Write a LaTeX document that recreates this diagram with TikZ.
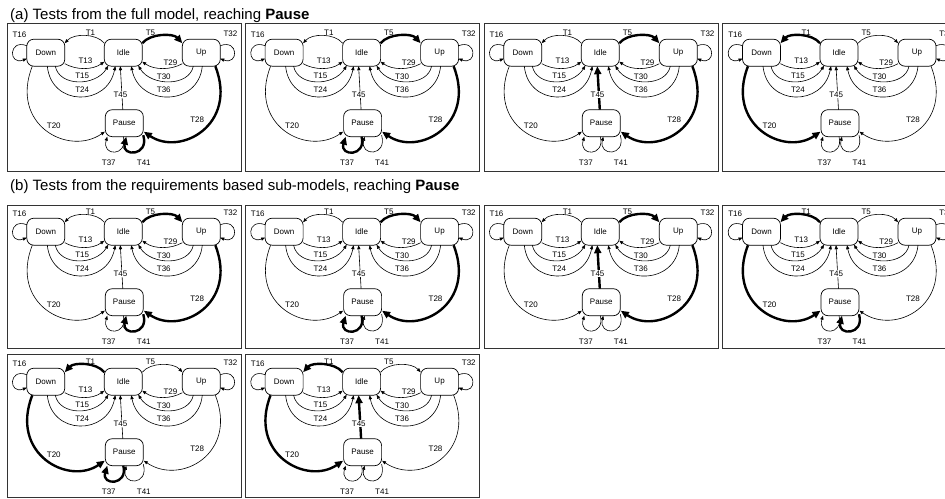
\documentclass[tikz,border=0pt]{standalone}
\usepackage{fontspec}
\setmainfont{Liberation Sans}
\usetikzlibrary{arrows.meta}
\newcommand\lab{\fontsize{8}{9}\selectfont}
\newcommand\ttl{\fontsize{15}{18}\selectfont}
\tikzset{
  st/.style={draw, line width=0.7pt, rounded corners=7pt, minimum width=38pt, minimum height=27pt, inner sep=0pt, fill=white, font=\lab},
  lb/.style={font=\lab, inner sep=0pt},
  ed/.style={line width=0.6pt, -{Triangle[length=4pt,width=3.2pt]}},
  hl/.style={line width=2.4pt, -{Triangle[length=8pt,width=7pt]}},
  frame/.style={draw, line width=0.9pt, black!80},
  eT1/.style={}, eT5/.style={}, eT13/.style={}, eT15/.style={}, eT16/.style={},
  eT20/.style={}, eT24/.style={}, eT28/.style={}, eT29/.style={}, eT30/.style={},
  eT32/.style={}, eT36/.style={}, eT37/.style={}, eT41/.style={}, eT45/.style={}
}
\newcommand\pnl{%
  \node[st] (D) at (-77.5,0) {Down};
  \node[st] (I) at (0,0) {Idle};
  \node[st] (U) at (78,0) {Up};
  \node[st] (P) at (1,70.5) {Pause};
  \draw[ed,eT1] ([shift={(-19,-9.5)}]I.center) .. controls +(-8,-10) and +(9,-10) .. ([shift={(19,-9.5)}]D.center);
  \draw[ed,eT5] ([shift={(19,-9.5)}]I.center) .. controls +(8,-10) and +(-9,-10) .. ([shift={(-19,-9.5)}]U.center);
  \draw[ed,eT13] ([shift={(19,11)}]D.center) .. controls +(11.5,6.5) and +(-12,8.5) .. ([shift={(-19,9)}]I.center);
  \draw[ed,eT15] ([shift={(9.5,13.5)}]D.center) .. controls +(4,20.5) and +(-13,21) .. ([shift={(-15,13)}]I.center);
  \draw[ed,eT24] ([shift={(1.5,13.5)}]D.center) .. controls +(4,40.5) and +(-8,40.5) .. ([shift={(-8,13.5)}]I.center);
  \draw[ed,eT29] ([shift={(-19,11)}]U.center) .. controls +(-11.5,6.5) and +(12,8.5) .. ([shift={(19,9)}]I.center);
  \draw[ed,eT30] ([shift={(-8,13.5)}]U.center) .. controls +(-4,20.5) and +(13,21) .. ([shift={(15,13)}]I.center);
  \draw[ed,eT36] ([shift={(1,13.5)}]U.center) .. controls +(-4,40.5) and +(8,40.5) .. ([shift={(8,13.5)}]I.center);
  \draw[ed,eT16] ([shift={(-19,-7)}]D.center) .. controls +(-18.5,-7) and +(-18.5,7) .. ([shift={(-19,6)}]D.center);
  \draw[ed,eT32] ([shift={(19,-7)}]U.center) .. controls +(18.5,-7) and +(18.5,7) .. ([shift={(19,6)}]U.center);
  \draw[ed,eT20] ([shift={(-13.5,13.5)}]D.center) .. controls +(-23,58.5) and +(-36.5,25) .. ([shift={(-19.5,8.5)}]P.center);
  \draw[ed,eT28] ([shift={(14,13.5)}]U.center) .. controls +(23,58.5) and +(36.5,25) .. ([shift={(19.5,8.5)}]P.center);
  \draw[ed,eT37] ([shift={(-1,13.5)}]P.center) .. controls +(5,20) and +(-6,20) .. ([shift={(-17,13.5)}]P.center);
  \draw[ed,eT41] ([shift={(19,12)}]P.center) .. controls +(6,21.5) and +(-5,20) .. ([shift={(2,13.5)}]P.center);
  \draw[ed,eT45] ([shift={(-1.5,-13.5)}]P.center) -- ([shift={(-3,13.5)}]I.center);
  \node[lb] (lT16) at (-103.8,-18.4) {T16};
  \node[lb] (lT1) at (-32.8,-19.6) {T1};
  \node[lb] (lT5) at (27.2,-19.6) {T5};
  \node[lb] (lT32) at (107.2,-18.7) {T32};
  \node[lb] (lT13) at (-37.8,7.8) {T13};
  \node[lb] (lT15) at (-41.1,23.3) {T15};
  \node[lb] (lT24) at (-41.1,36.6) {T24};
  \node[lb] (lT29) at (47.2,9.8) {T29};
  \node[lb] (lT30) at (40.5,23.6) {T30};
  \node[lb] (lT36) at (40.5,37.3) {T36};
  \node[lb, fill=white, inner sep=0.8pt] (lT45) at (-2.8,41.6) {T45};
  \node[lb] (lT20) at (-69.5,73.3) {T20};
  \node[lb] (lT28) at (73.9,67.3) {T28};
  \node[lb] (lT37) at (-14.5,109.6) {T37};
  \node[lb] (lT41) at (20.5,109.6) {T41};
}
\begin{document}
\begin{tikzpicture}[x=1pt,y=-1pt]
  \useasboundingbox (0,0) rectangle (945,498);
  \clip (0,0) rectangle (945,498);
  \node[anchor=base west, font=\ttl, inner sep=0pt] (ta) at (10,19) {(a) Tests from the full model, reaching \textbf{Pause}};
  \node[anchor=base west, font=\ttl, inner sep=0pt] (tb) at (10,190) {(b) Tests from the requirements based sub-models, reaching \textbf{Pause}};
  % frames
  \foreach \L in {7,245.3,484,722.7} {
    \draw[frame] (\L,23) rectangle ++(234,148);
    \draw[frame] (\L,205) rectangle ++(234,143);
  }
  \foreach \L in {7,245.3} {
    \draw[frame] (\L,354) rectangle ++(234,143);
  }
  % row a
  \begin{scope}[shift={(123.3,52.7)}, eT5/.style=hl, eT28/.style=hl, eT41/.style=hl]\pnl\end{scope}
  \begin{scope}[shift={(361.6,52.7)}, eT5/.style=hl, eT28/.style=hl, eT37/.style=hl]\pnl\end{scope}
  \begin{scope}[shift={(600.3,52.7)}, eT5/.style=hl, eT28/.style=hl, eT45/.style=hl]\pnl\end{scope}
  \begin{scope}[shift={(839,52.7)}, eT1/.style=hl, eT20/.style=hl]\pnl\end{scope}
  % row b
  \begin{scope}[shift={(123.3,231.7)}, eT5/.style=hl, eT28/.style=hl, eT41/.style=hl]\pnl\end{scope}
  \begin{scope}[shift={(361.6,231.7)}, eT5/.style=hl, eT28/.style=hl, eT37/.style=hl]\pnl\end{scope}
  \begin{scope}[shift={(600.3,231.7)}, eT5/.style=hl, eT28/.style=hl, eT45/.style=hl]\pnl\end{scope}
  \begin{scope}[shift={(839,231.7)}, eT1/.style=hl, eT20/.style=hl, eT41/.style=hl]\pnl\end{scope}
  % row c
  \begin{scope}[shift={(123.3,381.7)}, eT1/.style=hl, eT20/.style=hl, eT37/.style=hl]\pnl\end{scope}
  \begin{scope}[shift={(361.6,381.7)}, eT1/.style=hl, eT20/.style=hl, eT45/.style=hl]\pnl\end{scope}
\end{tikzpicture}
\end{document}
